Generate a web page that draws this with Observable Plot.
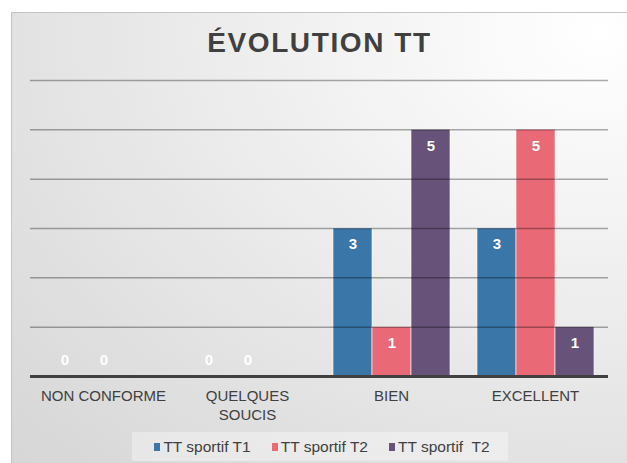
<!DOCTYPE html>
<html><head><meta charset="utf-8">
<script src="https://cdn.jsdelivr.net/npm/d3@7"></script>
<script src="https://cdn.jsdelivr.net/npm/@observablehq/plot@0.6"></script>
<style>
html,body{margin:0;padding:0;width:627px;height:463px;overflow:hidden;background:#fff;font-family:"Liberation Sans",Arial,sans-serif;}
#card{position:absolute;left:11px;top:12px;width:620px;height:455px;border:1px solid #c4c4c4;box-sizing:border-box;
 background:radial-gradient(ellipse at 95% 5%, #ffffff 0%, #f3f3f3 30%, #dedede 80%, #d6d6d6 100%);}
#title{position:absolute;left:6px;top:29px;width:627px;text-align:center;font-family:"Liberation Sans",Arial,sans-serif;font-weight:bold;font-size:28px;letter-spacing:1.6px;line-height:1;color:#404040;}
.layer{position:absolute;left:0;top:0;}
#legend{position:absolute;left:132px;top:432px;width:376px;height:29px;background:rgba(255,255,255,0.35);display:flex;align-items:center;justify-content:center;gap:21px;font-size:15.5px;color:#404040;padding-left:4px;box-sizing:border-box;}
#legend .item{display:flex;align-items:center;white-space:pre;}
#legend .sw{display:inline-block;width:6px;height:8px;margin-right:3px;}
</style></head>
<body>
<div id="card"></div>
<div id="title">ÉVOLUTION TT</div>
<div id="bars" class="layer"></div>
<div id="grid" class="layer"></div>
<div id="legend"></div>
<script>
const categories = ["NON CONFORME", "QUELQUES SOUCIS", "BIEN", "EXCELLENT"];
const tickLabels = ["NON CONFORME", "QUELQUES\nSOUCIS", "BIEN", "EXCELLENT"];
const seriesNames = ["TT sportif T1", "TT sportif T2", "TT sportif  T2"];
const seriesColors = ["#3a76a8", "#e96976", "#67527a"];
const valuesT1 = [0, 0, 3, 3];
const valuesT2 = [0, 0, 1, 5];
const valuesT2b = [null, null, 5, 1];
const gridValues = [1, 2, 3, 4, 5, 6];

const seriesValues = [valuesT1, valuesT2, valuesT2b];
const data = [];
categories.forEach((c, i) => seriesNames.forEach((s, j) => {
  const v = seriesValues[j][i];
  if (v != null) data.push({category: c, series: s, value: v});
}));

const common = {
  width: 627, height: 463,
  marginLeft: 30, marginRight: 19, marginTop: 80, marginBottom: 87,
  style: {background: "transparent", fontFamily: "'Liberation Sans', Arial, sans-serif"},
  y: {domain: [0, 6], axis: null}
};

const barsPlot = Plot.plot({
  ...common,
  fx: {domain: categories, paddingInner: 0.184, paddingOuter: 0.089, label: null, axis: null},
  x: {domain: seriesNames, padding: 0, axis: null},
  color: {domain: seriesNames, range: seriesColors},
  marks: [
    Plot.barY(data, {fx: "category", x: "series", y: "value", fill: "series", stroke: "#ffffff", strokeOpacity: 0.6, strokeWidth: 1}),
    Plot.text(data.filter(d => d.value > 0), {fx: "category", x: "series", y: "value", text: d => String(d.value), dy: 16, fill: "white", fontWeight: "bold", fontSize: 15}),
    Plot.text(data.filter(d => d.value === 0), {fx: "category", x: "series", y: "value", text: d => String(d.value), dy: -16, fill: "white", fontWeight: "bold", fontSize: 15}),
    Plot.axisFx({anchor: "bottom", tickSize: 0, tickPadding: 11, fontSize: 15, lineHeight: 1.25, fill: "#404040", label: null,
      tickFormat: c => tickLabels[categories.indexOf(c)]})
  ]
});
document.getElementById("bars").appendChild(barsPlot);

const gridPlot = Plot.plot({
  ...common,
  marks: [
    Plot.ruleY(gridValues, {stroke: "#000000", strokeOpacity: 0.33, strokeWidth: 1.5}),
    Plot.ruleY([0], {stroke: "#404040", strokeWidth: 3})
  ]
});
document.getElementById("grid").appendChild(gridPlot);

const legend = document.getElementById("legend");
seriesNames.forEach((s, j) => {
  const item = document.createElement("div");
  item.className = "item";
  const sw = document.createElement("span");
  sw.className = "sw";
  sw.style.background = seriesColors[j];
  const t = document.createElement("span");
  t.textContent = s;
  item.appendChild(sw); item.appendChild(t);
  legend.appendChild(item);
});
</script>
</body></html>
